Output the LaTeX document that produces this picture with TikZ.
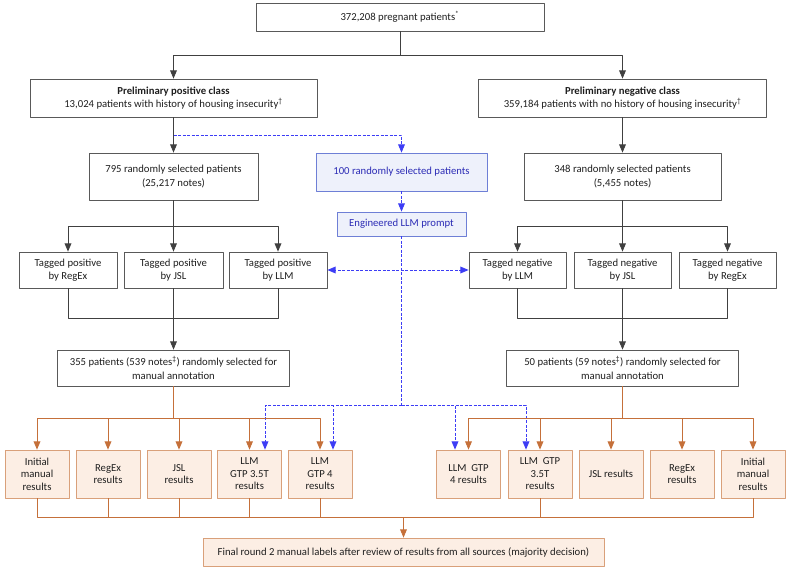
\documentclass[tikz,border=0pt]{standalone}
\usepackage{fontspec}
\setmainfont{Carlito}
\usepackage{tikz}
\usetikzlibrary{arrows}

\definecolor{boxgray}{HTML}{595959}
\definecolor{linegray}{HTML}{404040}
\definecolor{txtgray}{HTML}{1F1F1F}
\definecolor{resline}{HTML}{C5703A}
\definecolor{resborder}{HTML}{D9A07A}
\definecolor{resfill}{HTML}{FCEEE4}
\definecolor{llmblue}{HTML}{3D3DF5}
\definecolor{llmtext}{HTML}{2B2BB5}
\definecolor{llmfill}{HTML}{EEF1FB}
\definecolor{llmborder}{HTML}{6E7FD6}

\begin{document}
\begin{tikzpicture}[line join=round,>=triangle 45,x=1pt,y=-1pt,
    box/.style={draw=boxgray, fill=white, line width=0.8pt, align=center, inner sep=0pt, text=txtgray, font=\fontsize{10.7}{13.5}\selectfont},
    res/.style={draw=resborder, fill=resfill, line width=0.8pt, align=center, inner sep=0pt, text=txtgray, minimum width=64pt, minimum height=48pt, font=\fontsize{10.7}{12.5}\selectfont},
    llmbox/.style={draw=llmborder, fill=llmfill, line width=0.8pt, align=center, inner sep=0pt, text=llmtext, font=\fontsize{10.7}{13.5}\selectfont},
    conn/.style={draw=linegray, line width=0.9pt},
    orng/.style={draw=resline, line width=0.9pt},
    blu/.style={draw=llmblue, line width=0.9pt, dash pattern=on 3pt off 1.5pt}]
    \useasboundingbox (0,0) rectangle (792,569);

    % top and preliminary classes
    \node[box, minimum width=288pt, minimum height=28pt] (all) at (400,17) {372,208 pregnant patients\textsuperscript{*}};
    \node[box, minimum width=287pt, minimum height=38pt] (pos) at (173.5,98) {\textbf{Preliminary positive class}\\13,024 patients with history of housing insecurity\textsuperscript{†}};
    \node[box, minimum width=288pt, minimum height=38pt] (neg) at (622.5,98) {\textbf{Preliminary negative class}\\359,184 patients with no history of housing insecurity\textsuperscript{†}};

    \node[box, minimum width=169pt, minimum height=47pt] (possel) at (173.5,176.5) {795 randomly selected patients\\(25,217 notes)};
    \node[box, minimum width=197pt, minimum height=47pt] (negsel) at (622.5,176.5) {348 randomly selected patients\\(5,455 notes)};

    % llm branch
    \node[llmbox, minimum width=171pt, minimum height=38pt] (hundred) at (401.5,172) {100 randomly selected patients};
    \node[llmbox, minimum width=129pt, minimum height=24pt] (prompt) at (401.5,224) {Engineered LLM prompt};

    % tagged boxes
    \node[box, minimum width=98pt, minimum height=36pt] (posre) at (68,270) {Tagged positive\\by RegEx};
    \node[box, minimum width=99pt, minimum height=36pt] (posjsl) at (173.5,270) {Tagged positive\\by JSL};
    \node[box, minimum width=98pt, minimum height=36pt] (posllm) at (278,270) {Tagged positive\\by LLM};
    \node[box, minimum width=97pt, minimum height=36pt] (negllm) at (517.5,270) {Tagged negative\\by LLM};
    \node[box, minimum width=97pt, minimum height=36pt] (negjsl) at (622.5,270) {Tagged negative\\by JSL};
    \node[box, minimum width=97pt, minimum height=36pt] (negre) at (727.5,270) {Tagged negative\\by RegEx};

    \node[box, minimum width=232pt, minimum height=36pt] (posann) at (173.5,368) {355 patients (539 notes\textsuperscript{‡}) randomly selected for\\manual annotation};
    \node[box, minimum width=232pt, minimum height=36pt] (negann) at (622.5,368) {50 patients (59 notes\textsuperscript{‡}) randomly selected for\\manual annotation};

    % results
    \node[res] (lman) at (37,474) {Initial\\manual\\results};
    \node[res] (lre) at (108,474) {RegEx\\results};
    \node[res] (ljsl) at (179,474) {JSL\\results};
    \node[res] (lgtp35) at (249.5,474) {LLM\\GTP 3.5T\\results};
    \node[res] (lgtp4) at (320,474) {LLM\\GTP 4\\results};
    \node[res] (rgtp4) at (468.5,474) {LLM~ GTP\\4 results};
    \node[res] (rgtp35) at (540,474) {LLM~ GTP\\3.5T\\results};
    \node[res] (rjsl) at (611,474) {JSL results};
    \node[res] (rre) at (682,474) {RegEx\\results};
    \node[res] (rman) at (753,474) {Initial\\manual\\results};

    \node[res, minimum width=401pt, minimum height=28pt] (final) at (403.5,552) {Final round 2 manual labels after review of results from all sources (majority decision)};

    % black connectors
    \draw[conn,->] (all.south) -- ++(0,24) -| (pos.north);
    \draw[conn,->] (all.south) ++(0,24) -| (neg.north);
    \draw[conn,->] (pos) -- (possel);
    \draw[conn,->] (neg) -- (negsel);
    \draw[conn,->] (possel.south) -- ++(0,26) -| (posre.north);
    \draw[conn,->] (possel.south) ++(0,26) -| (posllm.north);
    \draw[conn,->] (possel) -- (posjsl);
    \draw[conn,->] (negsel.south) -- ++(0,26) -| (negllm.north);
    \draw[conn,->] (negsel.south) ++(0,26) -| (negre.north);
    \draw[conn,->] (negsel) -- (negjsl);
    \draw[conn] (posre.south) -- ++(0,30) -| (posllm.south);
    \draw[conn,->] (posjsl) -- (posann);
    \draw[conn] (negllm.south) -- ++(0,30) -| (negre.south);
    \draw[conn,->] (negjsl) -- (negann);

    % blue dashed
    \draw[blu,->] (pos.south) ++(0,18) -| (hundred.north);
    \draw[blu,->] (hundred) -- (prompt);
    \draw[blu,<->] (posllm.east) -- (negllm.west);
    \draw[blu] (prompt.south) -- ++(0,169) coordinate (pj);
    \draw[blu,->] (pj) -| ([xshift=15.5pt]lgtp35.north);
    \draw[blu,->] (pj) -| ([xshift=13pt]lgtp4.north);
    \draw[blu,->] (pj) -| ([xshift=-13.5pt]rgtp4.north);
    \draw[blu,->] (pj) -| ([xshift=-14pt]rgtp35.north);

    % orange
    \draw[orng] (posann.south) -- ++(0,32) coordinate (lj);
    \foreach \r in {lman,lre,ljsl,lgtp35,lgtp4}
        \draw[orng,->] (lj) -| (\r.north);
    \draw[orng] (negann.south) -- ++(0,32) coordinate (rj);
    \foreach \r in {rgtp4,rgtp35,rjsl,rre,rman}
        \draw[orng,->] (rj) -| (\r.north);
    \draw[orng] (lman.south) -- ++(0,19) -| (rman.south);
    \foreach \r in {lre,ljsl,lgtp35,lgtp4,rgtp35}
        \draw[orng] (\r.south) -- ++(0,19);
    \coordinate (fj) at (403.5,517);
    \draw[orng,->] (fj) -- (final);
\end{tikzpicture}
\end{document}
